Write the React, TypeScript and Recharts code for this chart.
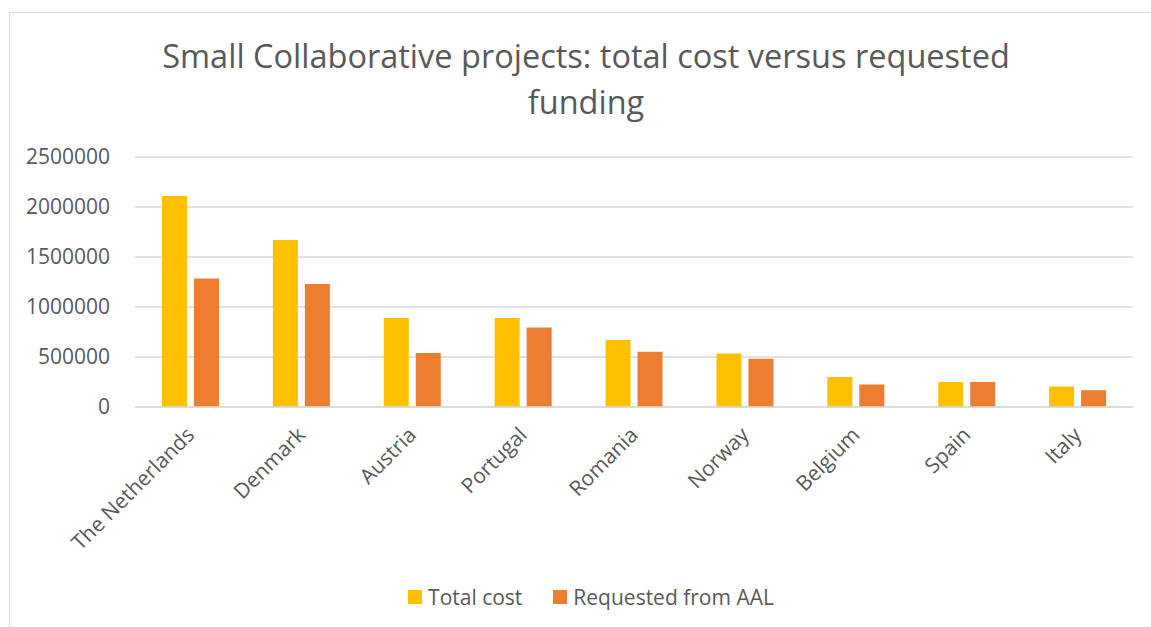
import React from "react"
import { BarChart, Bar, XAxis, YAxis, CartesianGrid, Legend } from "recharts"

const countries = ["The Netherlands", "Denmark", "Austria", "Portugal", "Romania", "Norway", "Belgium", "Spain", "Italy"]
const totalCost = [2110000, 1670000, 890000, 890000, 670000, 535000, 300000, 250000, 205000]
const requestedFromAAL = [1285000, 1230000, 540000, 795000, 552000, 482000, 225000, 250000, 168000]
const yTicks = [0, 500000, 1000000, 1500000, 2000000, 2500000]

const data = countries.map((name, i) => ({
  name,
  total: totalCost[i],
  requested: requestedFromAAL[i],
}))

const FONT = "'Open Sans', 'DejaVu Sans', sans-serif"
const TEXT = "#595959"

const CategoryTick = ({ x, y, payload }: any) => (
  <g transform={`translate(${x + 1},${y + 17})`}>
    <text x={0} y={0} dy={6} textAnchor="end" transform="rotate(-45)" fill={TEXT} fontSize={21} fontFamily={FONT}>
      {payload.value}
    </text>
  </g>
)

const LegendContent = () => (
  <div style={{ display: "flex", justifyContent: "center", gap: 31, fontFamily: FONT, fontSize: 21, color: TEXT }}>
    <div style={{ display: "flex", alignItems: "center", gap: 6 }}>
      <div style={{ width: 14, height: 14, background: "#FFC000" }} />
      <span>Total cost</span>
    </div>
    <div style={{ display: "flex", alignItems: "center", gap: 6 }}>
      <div style={{ width: 14, height: 14, background: "#ED7D31" }} />
      <span>Requested from AAL</span>
    </div>
  </div>
)

export default function App() {
  return (
    <div style={{ position: "absolute", left: 0, top: 0, width: 1151, height: 627, background: "#fff", overflow: "hidden" }}>
      <div style={{ position: "absolute", left: 9, top: 12, width: 1150, height: 640, border: "1px solid #D9D9D9" }} />
      <div
        style={{
          position: "absolute",
          left: 0,
          top: 33,
          width: 1172,
          textAlign: "center",
          fontFamily: FONT,
          fontSize: 32.5,
          lineHeight: "46px",
          color: TEXT,
        }}
      >
        <div>Small Collaborative projects: total cost versus requested</div>
        <div>funding</div>
      </div>
      <div style={{ position: "absolute", left: 0, top: 0 }}>
        <BarChart
          width={1151}
          height={627}
          data={data}
          margin={{ top: 157, right: 18, left: 0, bottom: 0 }}
          barSize={25}
          barGap={7}
        >
          <CartesianGrid vertical={false} stroke="#D9D9D9" strokeWidth={1.5} />
          <XAxis
            dataKey="name"
            height={220}
            axisLine={{ stroke: "#D9D9D9", strokeWidth: 1.5 }}
            tickLine={false}
            interval={0}
            tick={<CategoryTick />}
          />
          <YAxis
            width={135}
            domain={[0, 2500000]}
            ticks={yTicks}
            axisLine={false}
            tickLine={false}
            tickSize={0}
            tickMargin={25}
            tick={{ fill: TEXT, fontSize: 21, fontFamily: FONT }}
          />
          <Legend
            verticalAlign="middle"
            align="center"
            content={<LegendContent />}
            wrapperStyle={{ top: 583, left: 0, width: 1182 }}
          />
          <Bar dataKey="total" name="Total cost" fill="#FFC000" isAnimationActive={false} />
          <Bar dataKey="requested" name="Requested from AAL" fill="#ED7D31" isAnimationActive={false} />
        </BarChart>
      </div>
    </div>
  )
}
